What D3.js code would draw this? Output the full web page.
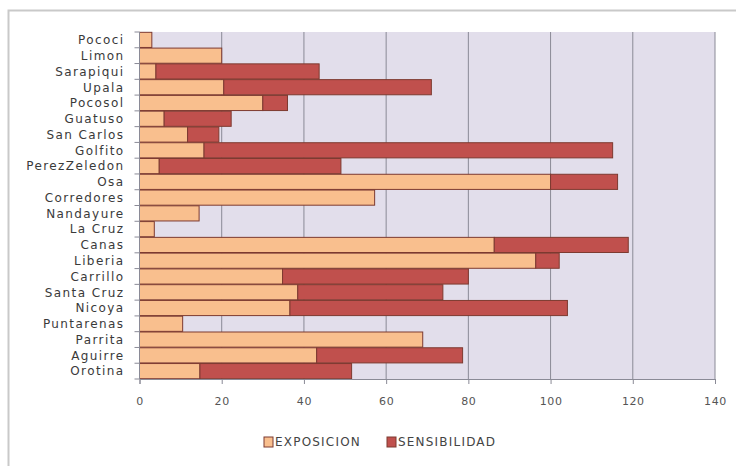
<!DOCTYPE html>
<html>
<head>
<meta charset="utf-8">
<script src="https://cdn.jsdelivr.net/npm/d3@7"></script>
<style>
  html, body { margin: 0; padding: 0; background: #fff; }
  svg { display: block; }
  text { font-family: "DejaVu Sans", "Liberation Sans", sans-serif; }
</style>
</head>
<body>
<svg id="chart" width="736" height="466"></svg>
<script>
// Cantones, listed from top to bottom
const categories = [
  "Pococi", "Limon", "Sarapiqui", "Upala", "Pocosol", "Guatuso", "San Carlos",
  "Golfito", "PerezZeledon", "Osa", "Corredores", "Nandayure", "La Cruz", "Canas",
  "Liberia", "Carrillo", "Santa Cruz", "Nicoya", "Puntarenas", "Parrita", "Aguirre", "Orotina"
];
const exposicion = [
  3, 20, 4, 20.5, 30, 6, 11.7,
  15.7, 4.8, 100, 57.2, 14.5, 3.6, 86.3,
  96.4, 34.8, 38.5, 36.6, 10.5, 68.9, 43.1, 14.7
];
const sensibilidad = [
  0, 0, 39.7, 50.5, 6, 16.3, 7.6,
  99.4, 44.2, 16.3, 0, 0, 0, 32.6,
  5.7, 45.2, 35.3, 67.5, 0, 0, 35.5, 36.9
];
const xTicks = [0, 20, 40, 60, 80, 100, 120, 140];
const seriesNames = ["EXPOSICION", "SENSIBILIDAD"];
const seriesColors = ["#F9BF8E", "#C0504D"];

const svg = d3.select("#chart");

// Outer chart frame
svg.append("rect")
  .attr("x", 8.5).attr("y", 10.5).attr("width", 740).attr("height", 470)
  .attr("fill", "#fff").attr("stroke", "#c9c9c9").attr("stroke-width", 2);

const plot = { left: 139.5, right: 715, top: 32, bottom: 379 };

const x = d3.scaleLinear().domain([0, 140]).range([plot.left, plot.right]);
const y = d3.scaleBand().domain(categories).range([plot.top, plot.bottom]).paddingInner(0.04).paddingOuter(0.02);

// Plot background
svg.append("rect")
  .attr("x", plot.left).attr("y", plot.top)
  .attr("width", plot.right - plot.left).attr("height", plot.bottom - plot.top)
  .attr("fill", "#E2DEEB");

// Vertical gridlines
svg.append("g").selectAll("line")
  .data(xTicks.filter(t => t > 0))
  .join("line")
  .attr("x1", d => x(d)).attr("x2", d => x(d))
  .attr("y1", plot.top).attr("y2", plot.bottom)
  .attr("stroke", "#8a8a96").attr("stroke-width", 1);

// Stacked bars
const rows = categories.map((c, i) => ({ cat: c, EXPOSICION: exposicion[i], SENSIBILIDAD: sensibilidad[i] }));
const stacked = d3.stack().keys(seriesNames)(rows);

svg.append("g").selectAll("g")
  .data(stacked)
  .join("g")
  .attr("fill", (d, i) => seriesColors[i])
  .selectAll("rect")
  .data(d => d.filter(s => s[1] - s[0] > 0))
  .join("rect")
  .attr("x", d => x(d[0]))
  .attr("y", d => y(d.data.cat))
  .attr("width", d => x(d[1]) - x(d[0]))
  .attr("height", y.bandwidth())
  .attr("stroke", "#7d3a30")
  .attr("stroke-width", 1);

// X axis
const xAxis = d3.axisBottom(x).tickValues(xTicks).tickSize(5).tickPadding(13);
const gx = svg.append("g").attr("transform", `translate(0,${plot.bottom})`).call(xAxis);
gx.select(".domain").attr("stroke", "#8a8a96");
gx.selectAll(".tick line").attr("stroke", "#8a8a96");
gx.selectAll(".tick text")
  .attr("font-family", "'DejaVu Sans', sans-serif")
  .attr("fill", "#555").attr("font-size", 11).attr("letter-spacing", 0.6);

// Y axis with ticks at band boundaries
const gy = svg.append("g").attr("transform", `translate(${plot.left},0)`);
gy.append("line").attr("x1", 0).attr("x2", 0).attr("y1", plot.top).attr("y2", plot.bottom).attr("stroke", "#8a8a96");
const step = (plot.bottom - plot.top) / categories.length;
gy.selectAll("line.tk")
  .data(d3.range(categories.length + 1))
  .join("line").attr("class", "tk")
  .attr("x1", -5).attr("x2", 0)
  .attr("y1", i => plot.top + i * step).attr("y2", i => plot.top + i * step)
  .attr("stroke", "#8a8a96");
gy.selectAll("text")
  .data(categories)
  .join("text")
  .attr("x", -15)
  .attr("y", d => y(d) + y.bandwidth() / 2)
  .attr("dy", "0.36em")
  .attr("text-anchor", "end")
  .attr("font-size", 12)
  .attr("letter-spacing", 1.4)
  .attr("fill", "#3a3a3a")
  .text(d => d);

// Legend
const legend = svg.append("g").attr("transform", "translate(264,437)");
const lx = [0, 123];
seriesNames.forEach((name, i) => {
  const g = legend.append("g").attr("transform", `translate(${lx[i]},0)`);
  g.append("rect").attr("x", 0).attr("y", 0).attr("width", 9).attr("height", 10)
    .attr("fill", seriesColors[i]).attr("stroke", "#7d3a30");
  g.append("text").attr("x", 11).attr("y", 5).attr("dy", "0.36em")
    .attr("font-size", 12).attr("letter-spacing", 1.2).attr("fill", "#444").text(name);
});
</script>
</body>
</html>
